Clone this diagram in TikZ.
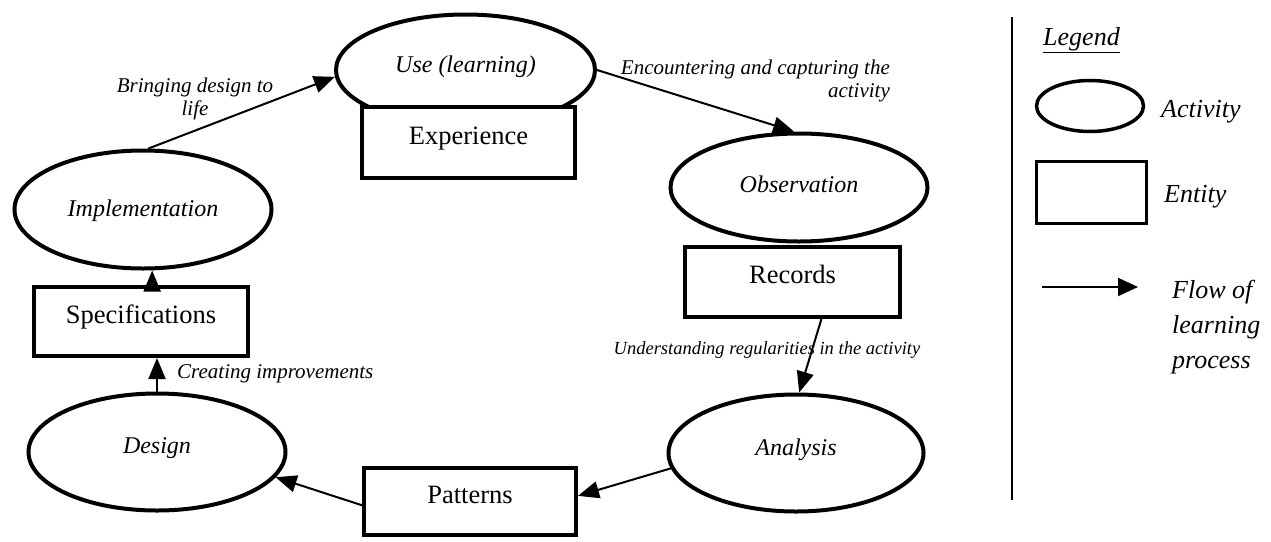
\documentclass[tikz,border=0pt]{standalone}
\usepackage{fontspec}
\setmainfont{Liberation Serif}[
  UprightFont={Liberation Serif},
  ItalicFont={Liberation Serif Italic},
  BoldFont={Liberation Serif Bold},
  BoldItalicFont={Liberation Serif Bold Italic}]
\usetikzlibrary{shapes.geometric,arrows.meta}
\begin{document}
\begin{tikzpicture}[x=1pt,y=-1pt,
  activity/.style={ellipse, draw, line width=4pt, fill=white, inner sep=0pt,
    font=\fontsize{24}{28}\selectfont\itshape, text height=16pt, text depth=6pt},
  entity/.style={rectangle, draw, line width=4pt, fill=white, inner sep=0pt,
    font=\fontsize{26.5}{30}\selectfont, text height=18pt, text depth=15pt},
  flow/.style={line width=2pt, -{Triangle[length=21pt,width=17pt]}},
  note/.style={inner sep=0pt, font=\fontsize{21}{23}\selectfont\itshape},
  key/.style={inner sep=0pt, font=\fontsize{26}{35}\selectfont\itshape}]
\useasboundingbox (0,0) rectangle (1271,541);

% learning cycle: activities (ellipses) and entities (boxes)
\node[activity, minimum width=259pt, minimum height=111pt, text depth=12pt] (use) at (465.5,70) {Use (learning)};
\node[entity, minimum width=213pt, minimum height=71pt] (exp) at (468.5,142.5) {Experience};

\node[activity, minimum width=257pt, minimum height=108pt] (obs) at (799,187.5) {Observation};
\node[entity, minimum width=215pt, minimum height=70pt] (rec) at (792.5,282) {Records};

\node[activity, minimum width=255pt, minimum height=117pt, text depth=12pt] (ana) at (796,453) {Analysis};
\node[entity, minimum width=212pt, minimum height=67pt] (pat) at (470,501.5) {Patterns};

\node[activity, minimum width=257pt, minimum height=117pt, text depth=14pt] (des) at (157,452) {Design};
\node[entity, minimum width=214pt, minimum height=69pt] (spec) at (141,321.5) {Specifications};

\node[activity, minimum width=257pt, minimum height=118pt, text depth=3pt] (imp) at (143,209.5) {Implementation};

% flow of the learning process
\draw[flow] (use.east) -- (obs.95);
\draw[flow] (rec.-52) -- (ana.87);
\draw[flow] (ana.187) -- (pat.3);
\draw[flow] (pat.182) -- (des.-12);
\draw[flow] (des.north) -- (des.north |- spec.south);
\draw[flow] (spec.73) -- (spec.73 |- imp.south);
\draw[flow] (imp.85) -- (use.183);

% connector labels
\node[note, align=center] (lblBring) at (195,98.5) {Bringing design to\\life};
\node[note, align=right, anchor=east] (lblEnc) at (890,80.5) {Encountering and capturing the\\activity};
\node[note, font=\fontsize{18.5}{21}\selectfont\itshape] (lblUnd) at (767,350) {Understanding regularities in the activity};
\node[note, anchor=west] (lblCreate) at (177,374) {Creating improvements};

% legend
\coordinate (sepTop) at (1012,17);
\coordinate (sepBot) at (1012,500);
\draw[line width=2pt] (sepTop) -- (sepBot);

\node[key, anchor=base west] (legTitle) at (1043,45) {\underline{Legend}};
\node[ellipse, draw, line width=3.5pt, minimum width=107pt, minimum height=51pt, inner sep=0pt] (legAct) at (1090,106) {};
\node[key, anchor=base west] (legActTxt) at (1161,117) {Activity};
\node[rectangle, draw, line width=3.5pt, minimum width=110pt, minimum height=62pt, inner sep=0pt] (legEnt) at (1091.5,192.5) {};
\node[key, anchor=base west] (legEntTxt) at (1164,202) {Entity};
\coordinate (legFlowA) at (1042,287);
\coordinate (legFlowB) at (1138,287);
\draw[flow, -{Triangle[length=20pt,width=18pt]}] (legFlowA) -- (legFlowB);
\node[key, align=left, anchor=north west] (legFlowTxt) at (1172,280) {Flow of\\learning\\process};
\end{tikzpicture}
\end{document}
